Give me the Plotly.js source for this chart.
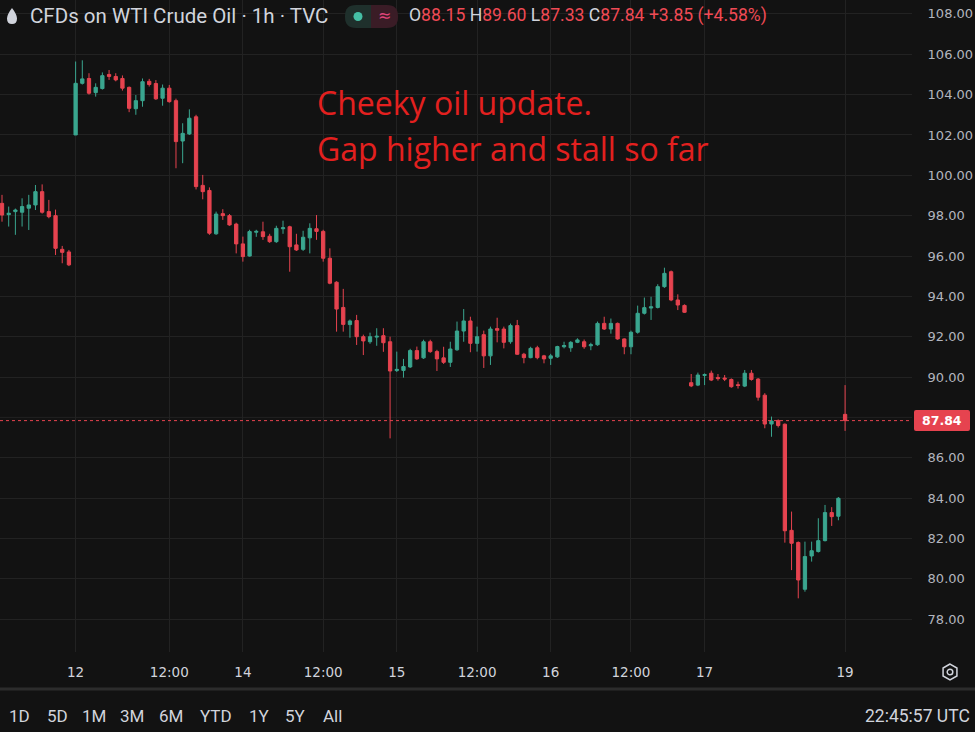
<!DOCTYPE html>
<html>
<head>
<meta charset="utf-8">
<script src="https://cdn.plot.ly/plotly-3.0.1.min.js"></script>
<style>
  html, body { margin: 0; padding: 0; background: #121212; }
  #chart { width: 975px; height: 732px; }
</style>
</head>
<body>
<div id="chart"></div>
<script>
// ---- Data (hourly candles, CFDs on WTI Crude Oil) ----
const open = [98.61,98.05,98.20,98.17,98.37,98.53,99.19,98.20,98.00,96.33,96.20,
  102.00,104.56,104.80,104.10,104.30,105.00,104.90,104.80,104.36,103.30,103.70,104.66,104.55,103.82,104.32,103.70,101.70,102.05,102.90,99.50,99.25,97.10,98.10,98.00,97.58,96.60,96.00,97.18,97.20,96.98,96.71,97.35,97.45,96.55,96.33,96.90,97.35,97.22,95.89,94.70,93.45,92.60,92.80,92.00,91.75,91.98,92.05,91.75,
  90.32,90.33,90.50,91.31,90.95,91.75,91.26,90.95,90.73,91.35,92.28,92.78,91.67,92.10,91.05,92.40,92.38,91.75,92.55,91.13,90.96,91.45,91.05,
  90.93,91.00,91.50,91.45,91.72,91.75,91.55,91.60,92.66,92.38,92.66,91.89,91.50,92.22,93.16,93.42,93.45,94.48,95.22,93.82,93.55,
  89.72,89.60,90.08,90.19,89.98,89.95,89.88,89.62,89.55,90.19,89.90,89.10,87.67,87.84,87.66,82.40,81.80,79.48,81.13,81.35,81.89,83.28,83.10,
  88.15];
const high = [99.03,98.45,98.35,98.86,99.03,99.52,99.55,98.78,98.30,96.50,96.30,
  105.64,105.70,105.06,104.56,105.10,105.22,105.06,104.95,104.40,103.98,104.80,104.78,104.72,104.50,104.48,103.80,102.58,103.27,103.00,100.02,99.40,98.20,98.32,98.08,97.65,96.96,97.30,97.30,97.70,97.10,97.50,97.75,97.50,97.10,97.25,97.62,98.03,97.30,96.38,94.75,94.37,92.85,93.08,92.10,92.20,92.42,92.42,92.00,
  91.26,90.90,91.40,91.51,91.85,91.85,91.35,91.50,91.75,92.75,93.37,92.99,92.50,92.30,92.50,92.94,92.50,92.65,92.83,91.20,91.50,91.55,91.10,
  91.15,91.55,91.75,91.78,91.92,91.86,91.70,92.75,92.99,92.90,92.70,91.92,92.30,93.54,93.94,93.98,94.60,95.42,95.28,94.10,93.60,
  90.15,90.22,90.18,90.32,90.15,90.10,89.93,89.77,90.35,90.35,89.95,89.20,88.04,87.90,87.70,83.33,81.85,81.84,81.84,83.00,83.66,83.55,84.05,
  89.60];
const low = [97.70,97.46,97.05,97.46,97.29,98.28,98.10,97.87,96.05,95.64,95.50,
  102.00,104.50,104.00,103.90,104.25,104.73,104.66,104.20,103.13,103.00,103.40,104.40,103.74,103.45,103.60,100.35,100.60,102.00,99.30,98.81,97.05,97.05,97.79,97.50,96.13,95.72,95.97,96.95,96.80,96.65,96.65,97.10,95.22,96.25,96.25,96.13,96.80,95.72,94.60,92.25,92.25,91.95,91.59,91.09,91.65,91.55,91.25,86.96,
  90.25,89.97,90.45,90.85,90.90,91.20,90.30,90.65,90.50,91.30,91.75,91.23,91.26,90.45,90.60,91.72,91.42,91.65,91.10,90.68,90.93,90.88,90.68,
  90.60,90.95,91.42,91.25,91.68,91.40,91.33,91.55,92.33,92.15,91.85,91.13,91.13,92.15,93.10,92.83,93.40,94.42,93.76,93.32,93.18,
  89.50,89.55,89.60,89.80,89.82,89.80,89.47,89.43,89.50,89.82,88.83,87.46,87.04,87.50,81.79,80.43,79.03,79.36,80.85,81.30,81.85,82.62,82.90,
  87.33];
const close = [98.03,98.12,98.28,98.45,98.53,99.19,98.17,97.95,96.38,96.18,95.56,
  104.56,104.78,104.07,104.36,104.94,104.90,104.73,104.32,103.32,103.70,104.64,104.50,103.79,104.32,103.65,101.67,102.08,102.83,99.44,99.19,97.13,98.08,98.00,97.54,96.60,95.97,97.21,97.22,96.96,96.71,97.37,97.40,96.46,96.30,96.93,97.37,97.22,95.89,94.65,93.37,92.61,92.78,92.00,91.79,92.00,92.02,91.70,90.30,
  90.38,90.52,91.31,90.90,91.75,91.26,90.90,90.73,91.39,92.28,92.78,91.67,92.00,91.05,92.38,92.32,91.72,92.55,91.13,90.96,91.42,90.96,90.90,
  91.05,91.51,91.56,91.72,91.84,91.50,91.60,92.66,92.38,92.66,91.89,91.50,92.22,93.16,93.44,93.48,94.48,95.14,93.82,93.57,93.21,
  89.56,90.10,90.12,89.85,89.92,89.90,89.52,89.58,90.19,89.88,89.00,87.67,87.82,87.60,82.38,81.76,79.94,81.10,81.39,81.89,83.28,83.08,83.99,
  87.84];

// bar slots of the session labels on the time axis
const timeTickBars = [11, 25, 36, 48, 59, 71, 82, 94, 105, 126];
const timeTickLabels = ['12', '12:00', '14', '12:00', '15', '12:00', '16', '12:00', '17', '19'];
const priceTicks = [78, 80, 82, 84, 86, 90, 92, 94, 96, 98, 100, 102, 104, 106, 108];
const priceTickLabels = ['78.00','80.00','82.00','84.00','86.00','90.00','92.00','94.00','96.00','98.00','100.00','102.00','104.00','106.00','108.00'];
const lastPrice = 87.84;
const lastPriceLabel = '87.84';
const legendValues = { o: '88.15', h: '89.60', l: '87.33', c: '87.84', chg: '+3.85 (+4.58%)' };
const rangeButtons = ['1D', '5D', '1M', '3M', '6M', 'YTD', '1Y', '5Y', 'All'];
const rangeButtonX = [19, 57, 94, 132, 171, 216, 259, 295, 332];

// ---- Layout helpers (pixel -> paper) ----
const PW = 912, PH = 652;
const px = x => x / PW;
const py = y => 1 - y / PH;
function path(pts) {
  return pts.map(p => {
    const c = p[0]; const rest = [];
    for (let i = 1; i < p.length; i += 2) rest.push(px(p[i]).toFixed(5) + ',' + py(p[i+1]).toFixed(5));
    return c + rest.join(' ');
  }).join(' ');
}
function roundRect(x0, y0, x1, y1, r, leftRound, rightRound) {
  const pts = [];
  if (leftRound) { pts.push(['M', x0 + r, y0]); } else { pts.push(['M', x0, y0]); }
  if (rightRound) { pts.push(['L', x1 - r, y0]); pts.push(['Q', x1, y0, x1, y0 + r]); pts.push(['L', x1, y1 - r]); pts.push(['Q', x1, y1, x1 - r, y1]); }
  else { pts.push(['L', x1, y0]); pts.push(['L', x1, y1]); }
  if (leftRound) { pts.push(['L', x0 + r, y1]); pts.push(['Q', x0, y1, x0, y1 - r]); pts.push(['L', x0, y0 + r]); pts.push(['Q', x0, y0, x0 + r, y0]); }
  else { pts.push(['L', x0, y1]); }
  return path(pts) + ' Z';
}

const UP = '#3aa68f', DOWN = '#e6434f', BG = '#121212', GRID = '#222222';
const bars = open.map((_, i) => i);

const trace = {
  type: 'candlestick',
  x: bars, open: open, high: high, low: low, close: close,
  increasing: { line: { color: UP, width: 1 }, fillcolor: UP },
  decreasing: { line: { color: DOWN, width: 1 }, fillcolor: DOWN },
  whiskerwidth: 0,
  hoverinfo: 'skip',
  showlegend: false
};

const hexPts = [];
for (let k = 0; k < 6; k++) {
  const a = Math.PI / 2 + k * Math.PI / 3;
  hexPts.push([k === 0 ? 'M' : 'L', 950 + 8 * Math.cos(a), 672 - 8 * Math.sin(a)]);
}

const shapes = [
  { type: 'line', xref: 'paper', yref: 'y', x0: 0, x1: 1, y0: 88, y1: 88, line: { color: GRID, width: 1 }, layer: 'below' },
  { type: 'line', xref: 'paper', yref: 'y', x0: 0, x1: 1, y0: lastPrice, y1: lastPrice, line: { color: DOWN, width: 1, dash: 'dot' } },
  { type: 'path', xref: 'paper', yref: 'paper', path: roundRect(914, 410, 970, 431, 2, true, true), fillcolor: DOWN, line: { width: 0 } },
  { type: 'path', xref: 'paper', yref: 'paper', path: path([['M', 12, 8], ['Q', 17, 14.5, 17, 18.5], ['Q', 17, 24, 12, 24], ['Q', 7, 24, 7, 18.5], ['Q', 7, 14.5, 12, 8]]) + ' Z', fillcolor: '#d1d4dc', line: { width: 0 } },
  { type: 'path', xref: 'paper', yref: 'paper', path: roundRect(345, 5, 371, 28, 11, true, false), fillcolor: '#1f302c', line: { width: 0 } },
  { type: 'path', xref: 'paper', yref: 'paper', path: roundRect(371, 5, 398, 28, 11, false, true), fillcolor: '#3a1c26', line: { width: 0 } },
  { type: 'circle', xref: 'paper', yref: 'paper', x0: px(353.5), x1: px(362.5), y0: py(21), y1: py(12), fillcolor: '#45bfa5', line: { width: 0 } },
  { type: 'line', xref: 'paper', yref: 'paper', x0: px(0), x1: px(975), y0: py(689), y1: py(689), line: { color: '#2c2c2c', width: 3 } },
  { type: 'path', xref: 'paper', yref: 'paper', path: path(hexPts) + ' Z', line: { color: '#d1d4dc', width: 1.5 } },
  { type: 'circle', xref: 'paper', yref: 'paper', x0: px(947.2), x1: px(952.8), y0: py(674.8), y1: py(669.2), line: { color: '#d1d4dc', width: 1.5 } }
];

const RED_TXT = '#f04a55';
const legendText = 'O<span style="color:' + RED_TXT + '">' + legendValues.o + '</span> H<span style="color:' + RED_TXT + '">' + legendValues.h +
  '</span> L<span style="color:' + RED_TXT + '">' + legendValues.l + '</span> C<span style="color:' + RED_TXT + '">' + legendValues.c +
  '</span> <span style="color:' + RED_TXT + '">' + legendValues.chg + '</span>';

const annotations = [
  { xref: 'paper', yref: 'paper', x: px(28), y: py(16), xanchor: 'left', yanchor: 'middle', showarrow: false,
    text: 'CFDs on WTI Crude Oil · 1h · TVC', font: { family: 'Roboto, sans-serif', size: 20.5, color: '#d1d4dc' } },
  { xref: 'paper', yref: 'paper', x: px(384), y: py(16), xanchor: 'center', yanchor: 'middle', showarrow: false,
    text: '≈', font: { family: 'DejaVu Sans, sans-serif', size: 16, color: '#e0457b' } },
  { xref: 'paper', yref: 'paper', x: px(407), y: py(16), xanchor: 'left', yanchor: 'middle', showarrow: false,
    text: legendText, font: { family: 'Roboto, sans-serif', size: 17.6, color: '#d1d4dc' } },
  { xref: 'paper', yref: 'paper', x: px(315), y: py(103), xanchor: 'left', yanchor: 'middle', showarrow: false,
    text: 'Cheeky oil update.', font: { family: 'Open Sans, sans-serif', size: 32, color: '#e3201f' } },
  { xref: 'paper', yref: 'paper', x: px(315), y: py(148), xanchor: 'left', yanchor: 'middle', showarrow: false,
    text: 'Gap higher and stall so far', font: { family: 'Open Sans, sans-serif', size: 32, color: '#e3201f' } },
  { xref: 'paper', yref: 'paper', x: px(942), y: py(420.5), xanchor: 'center', yanchor: 'middle', showarrow: false,
    text: '<b>' + lastPriceLabel + '</b>', font: { family: 'DejaVu Sans, sans-serif', size: 12.5, color: '#ffffff' } },
  { xref: 'paper', yref: 'paper', x: px(972), y: py(716), xanchor: 'right', yanchor: 'middle', showarrow: false,
    text: '22:45:57 UTC', font: { family: 'Roboto, sans-serif', size: 17.5, color: '#d1d4dc' } }
];
rangeButtons.forEach((t, i) => annotations.push({
  xref: 'paper', yref: 'paper', x: px(rangeButtonX[i]), y: py(716), xanchor: 'center', yanchor: 'middle', showarrow: false,
  text: t, font: { family: 'Roboto, sans-serif', size: 17, color: '#d1d4dc' }
}));

const layout = {
  width: 975, height: 732,
  margin: { l: 0, r: 63, t: 0, b: 80, pad: 0 },
  paper_bgcolor: BG, plot_bgcolor: BG,
  boxgap: 0.3,
  showlegend: false,
  dragmode: false,
  xaxis: {
    type: 'linear', range: [-0.3, 136.0], fixedrange: true,
    rangeslider: { visible: false },
    tickmode: 'array', tickvals: timeTickBars, ticktext: timeTickLabels,
    showgrid: true, gridcolor: GRID, gridwidth: 1, zeroline: false, showline: false,
    ticks: 'outside', ticklen: 8, tickcolor: 'rgba(0,0,0,0)',
    tickfont: { family: 'DejaVu Sans, sans-serif', size: 13.5, color: '#d1d4dc' }
  },
  yaxis: {
    side: 'right', range: [76.37, 108.69], fixedrange: true,
    tickmode: 'array', tickvals: priceTicks, ticktext: priceTickLabels,
    showgrid: true, gridcolor: GRID, gridwidth: 1, zeroline: false, showline: false,
    ticks: 'outside', ticklen: 12, tickcolor: 'rgba(0,0,0,0)',
    tickfont: { family: 'DejaVu Sans, sans-serif', size: 13, color: '#b2b5be' }
  },
  shapes: shapes,
  annotations: annotations
};

Plotly.newPlot('chart', [trace], layout, { displayModeBar: false, staticPlot: true });
</script>
</body>
</html>
